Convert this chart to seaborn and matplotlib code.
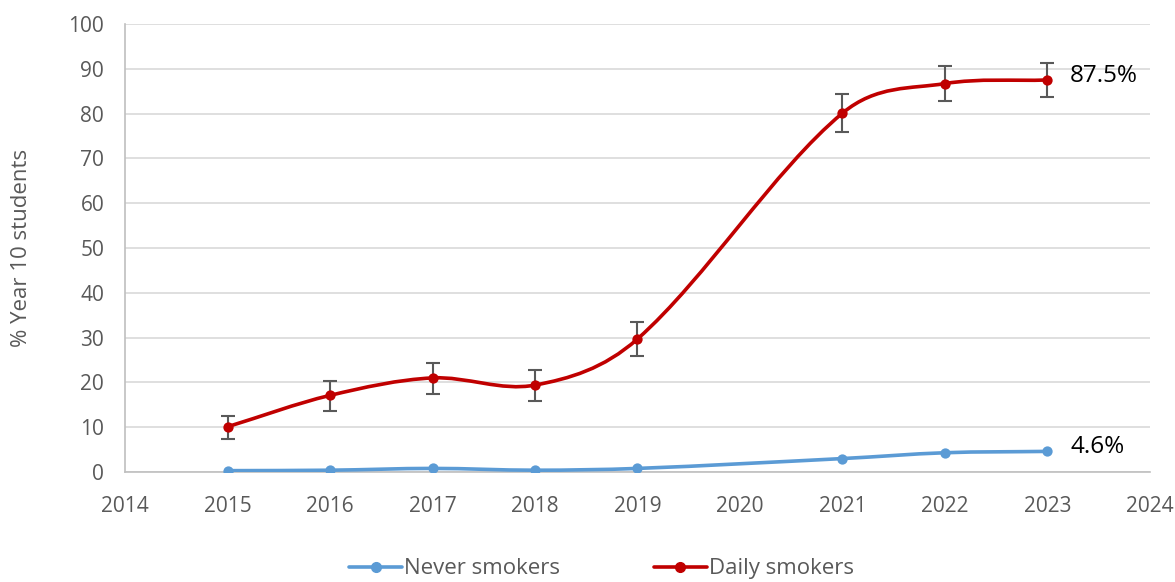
import matplotlib
matplotlib.use("Agg")
import matplotlib.pyplot as plt
from matplotlib.path import Path
from matplotlib.patches import PathPatch
from matplotlib.lines import Line2D
import numpy as np
import pandas as pd
import seaborn as sns

# data
years = [2015, 2016, 2017, 2018, 2019, 2021, 2022, 2023]
never_smokers = [0.3, 0.4, 0.8, 0.4, 0.8, 3.0, 4.3, 4.6]
daily_smokers = [10.1, 17.1, 21.0, 19.4, 29.7, 80.1, 86.7, 87.5]
daily_lo = [7.4, 13.7, 17.5, 15.9, 25.9, 75.8, 82.8, 83.6]
daily_hi = [12.6, 20.3, 24.4, 22.8, 33.5, 84.4, 90.6, 91.4]
end_labels = ["4.6%", "87.5%"]

BLUE = "#5b9bd5"
RED = "#c00000"
GREY = "#595959"


def smooth_path(x, y):
    # smoothed line: cubic bezier through every point (slope-based tangents)
    x = np.asarray(x, float)
    y = np.asarray(y, float)
    n = len(x)
    m = np.zeros(n)
    for i in range(n):
        a = max(i - 1, 0)
        b = min(i + 1, n - 1)
        m[i] = (y[b] - y[a]) / (x[b] - x[a])
    verts = [(x[0], y[0])]
    codes = [Path.MOVETO]
    for i in range(n - 1):
        h = x[i + 1] - x[i]
        c1 = (x[i] + h / 3, y[i] + m[i] * h / 3)
        c2 = (x[i + 1] - h / 3, y[i + 1] - m[i + 1] * h / 3)
        verts += [c1, c2, (x[i + 1], y[i + 1])]
        codes += [Path.CURVE4] * 3
    return Path(verts, codes)


sns.set_theme(style="white")
plt.rcParams["font.family"] = ["Open Sans", "DejaVu Sans"]

df = pd.DataFrame({"year": years, "never": never_smokers, "daily": daily_smokers})

fig = plt.figure(figsize=(11.75, 5.82), dpi=100)
ax = fig.add_axes([0.1064, 0.189, 0.8723, 0.7698])

ax.errorbar(years, daily_smokers,
            yerr=[np.array(daily_smokers) - np.array(daily_lo),
                  np.array(daily_hi) - np.array(daily_smokers)],
            fmt="none", ecolor=GREY, elinewidth=1.5, capsize=5, capthick=1.5, zorder=2)

for col, c in [("never", BLUE), ("daily", RED)]:
    ax.add_patch(PathPatch(smooth_path(df["year"], df[col]), fill=False,
                           edgecolor=c, lw=2.6, capstyle="round", zorder=3))
    sns.scatterplot(data=df, x="year", y=col, color=c, s=55, edgecolor=c,
                    linewidth=0, zorder=4, ax=ax)

ax.text(2023.22, daily_smokers[-1] + 1, end_labels[1], fontsize=17.5,
        color="black", va="center", ha="left")
ax.text(2023.22, never_smokers[-1] + 1, end_labels[0], fontsize=17.5,
        color="black", va="center", ha="left")

ax.set_xlim(2014, 2024)
ax.set_ylim(0, 100)
ax.set_xticks(range(2014, 2025))
ax.set_yticks(range(0, 101, 10))
ax.yaxis.grid(True, color="#d9d9d9", lw=1.2)
ax.set_axisbelow(True)
ax.set_xlabel("")
ax.set_ylabel("% Year 10 students", fontsize=16, color=GREY, labelpad=26)
ax.tick_params(axis="x", direction="in", length=6, color="#bfbfbf",
               labelsize=15, labelcolor=GREY, pad=17)
ax.tick_params(axis="y", length=0, labelsize=15, labelcolor=GREY, pad=15)
for s in ["top", "right"]:
    ax.spines[s].set_visible(False)
for s in ["left", "bottom"]:
    ax.spines[s].set_color("#bfbfbf")
    ax.spines[s].set_linewidth(1.2)

handles = [Line2D([], [], color=BLUE, lw=2.6, marker="o", markersize=7),
           Line2D([], [], color=RED, lw=2.6, marker="o", markersize=7)]
leg = fig.legend(handles, ["Never smokers", "Daily smokers"], loc="lower center",
                 bbox_to_anchor=(0.512, -0.03), ncol=2, frameon=False, fontsize=16,
                 handlelength=2.4, handletextpad=0.1, columnspacing=4.2)
for t in leg.get_texts():
    t.set_color(GREY)

fig.savefig("out.png", dpi=100)
